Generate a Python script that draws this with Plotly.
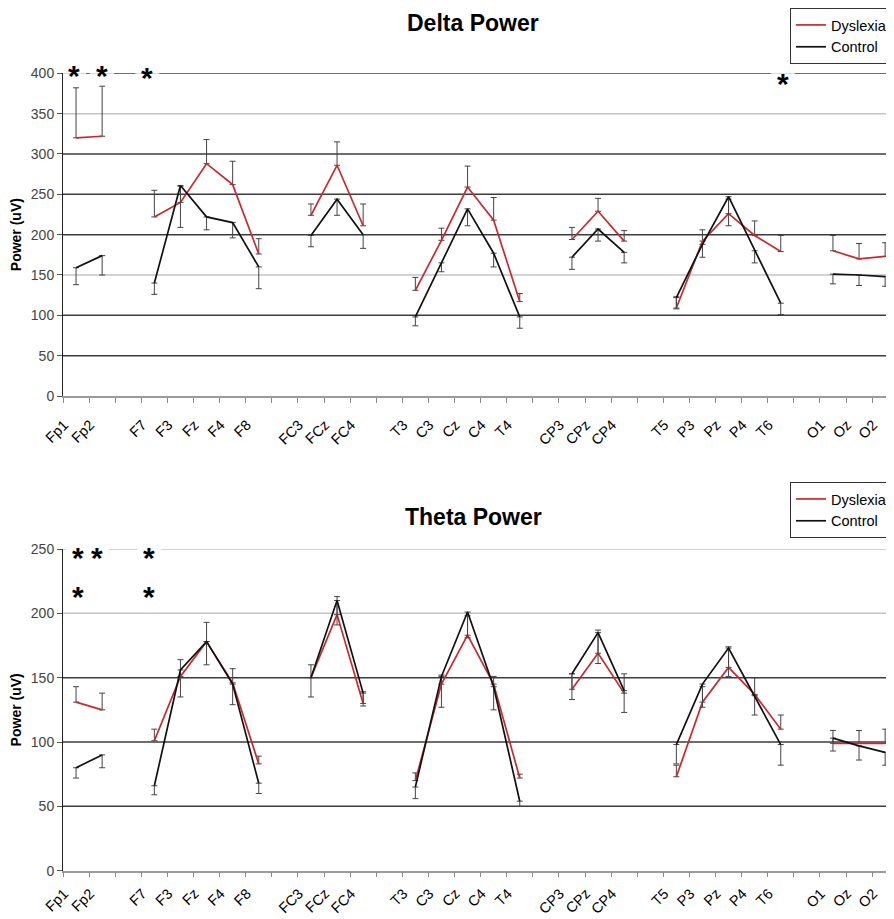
import plotly.graph_objects as go

# ---------------- data ----------------
# electrode categories (blank, distinct whitespace strings separate the electrode groups)
CATEGORIES = ["Fp1", "Fp2", " ",
              "F7", "F3", "Fz", "F4", "F8", "  ",
              "FC3", "FCz", "FC4", "   ",
              "T3", "C3", "Cz", "C4", "T4", "    ",
              "CP3", "CPz", "CP4", "     ",
              "T5", "P3", "Pz", "P4", "T6", "      ",
              "O1", "Oz", "O2"]

N = None
DELTA_DYSLEXIA = [320, 322, N, 222, 240, 288, 262, 176, N, 224, 286, 211, N,
                  131, 193, 259, 218, 117, N, 194, 229, 192, N,
                  109, 192, 226, 199, 179, N, 180, 170, 173]
DELTA_DYSLEXIA_ERR = [62, 62, N, 33, 20, 30, 29, 19, N, 14, 29, 27, N,
                      16, 15, 26, 28, 10, N, 15, 16, 13, N,
                      14, 14, 18, 18, 20, N, 19, 19, 17]
DELTA_CONTROL = [159, 174, N, 140, 261, 222, 215, 160, N, 199, 244, 200, N,
                 98, 165, 232, 177, 98, N, 172, 207, 178, N,
                 122, 188, 247, 180, 115, N, 151, 150, 148]
DELTA_CONTROL_ERR = [21, 24, N, 14, 52, 16, 19, 27, N, 14, 20, 17, N,
                     11, 11, 21, 17, 14, N, 15, 15, 13, N,
                     14, 16, 36, 15, 14, N, 12, 13, 12]

THETA_DYSLEXIA = [131, 125, N, 101, 151, 178, 146, 83, N, 150, 199, 130, N,
                  70, 145, 183, 145, 72, N, 141, 169, 138, N,
                  73, 131, 158, 137, 110, N, 99, 99, 99]
THETA_DYSLEXIA_ERR = [12, 13, N, 9, 13, 15, 11, 6, N, 10, 14, 9, N,
                      6, 7, 15, 6, 3, N, 12, 18, 15, N,
                      9, 12, 16, 13, 11, N, 10, 10, 11]
THETA_CONTROL = [80, 90, N, 66, 156, 178, 145, 68, N, 150, 210, 138, N,
                 65, 151, 201, 143, 54, N, 153, 185, 140, N,
                 98, 145, 173, 136, 98, N, 103, 97, 92]
THETA_CONTROL_ERR = [8, 10, N, 7, 21, 18, 16, 8, N, 15, 19, 10, N,
                     9, 24, 20, 18, 4, N, 20, 24, 17, N,
                     15, 18, 22, 15, 16, N, 10, 11, 10]

DELTA_TICKS = [0, 50, 100, 150, 200, 250, 300, 350, 400]
THETA_TICKS = [0, 50, 100, 150, 200, 250]

# significance markers: electrode -> number of stacked asterisks
DELTA_SIG = {"Fp1": 1, "Fp2": 1, "F7": 1, "T6": 1}
THETA_SIG = {"Fp1": 2, "Fp2": 1, "F7": 2}

# ---------------- styles ----------------
RED = "#C62A2F"
BLACK = "#111111"
ERR_COLOR = "#444444"
GRID_DARK = "#3c3c3c"
GRID_LIGHT = "#c4c4c4"
DELTA_GRID_STYLE = {50: GRID_DARK, 100: GRID_DARK, 150: GRID_LIGHT, 200: GRID_DARK,
                    250: GRID_DARK, 300: GRID_DARK, 350: GRID_LIGHT, 400: GRID_DARK}
THETA_GRID_STYLE = {50: GRID_DARK, 100: GRID_DARK, 150: GRID_DARK,
                    200: GRID_LIGHT, 250: GRID_LIGHT}
FONT = "Liberation Sans, Arial, sans-serif"
# star placement: (x shift px, px of the first asterisk's centre below the top gridline)
DELTA_STAR_POS = {"Fp1": (-2, -3), "Fp2": (0, -3), "F7": (-7, -1), "T6": (2, 5)}
THETA_STAR_POS = {"Fp1": (2, 3), "Fp2": (-5, 3), "F7": (-5, 3)}
STAR_SIZE = 30
STAR_INK_BELOW_TOP = 11.9   # asterisk ink centre below the top of its text box

# the page body adds an 8px margin, so the figure is drawn 8px smaller and
# all reference pixel positions are shifted by that margin
PAGE_W, PAGE_H = 894, 919
OFF = 8
W, H = PAGE_W - OFF, PAGE_H - OFF
PLOT_LEFT = 63
L = PLOT_LEFT - OFF
CAT_PX = 26.1
X_RANGE = [-0.5, -0.5 + (PAGE_W - PLOT_LEFT) / CAT_PX]


def paper_x(px):          # reference page px -> plot-area fraction
    return (px - PLOT_LEFT) / (W - L)


def paper_y(py):
    return 1 - (py - OFF) / H


fig = go.Figure()


def add_panel(dys, dys_err, con, con_err, xa, ya, legend):
    zeros = [0 if v is not None else None for v in dys]
    fig.add_trace(go.Scatter(
        x=CATEGORIES, y=dys, name="Dyslexia", mode="lines", connectgaps=False,
        line=dict(color=RED, width=1.7), xaxis=xa, yaxis=ya, legend=legend,
        error_y=dict(type="data", symmetric=False, array=dys_err, arrayminus=zeros,
                     color=ERR_COLOR, thickness=1, width=3),
        hoverinfo="x+y"))
    fig.add_trace(go.Scatter(
        x=CATEGORIES, y=con, name="Control", mode="lines", connectgaps=False,
        line=dict(color=BLACK, width=1.7), xaxis=xa, yaxis=ya, legend=legend,
        error_y=dict(type="data", symmetric=False, array=zeros, arrayminus=con_err,
                     color=ERR_COLOR, thickness=1, width=3),
        hoverinfo="x+y"))


add_panel(DELTA_DYSLEXIA, DELTA_DYSLEXIA_ERR, DELTA_CONTROL, DELTA_CONTROL_ERR, "x", "y", "legend")
add_panel(THETA_DYSLEXIA, THETA_DYSLEXIA_ERR, THETA_CONTROL, THETA_CONTROL_ERR, "x2", "y2", "legend2")

shapes = []
annotations = []


def grid_and_stars(ticks, grid_style, sig, pos, xref, yref, top):
    for v in ticks:
        if v in grid_style:
            shapes.append(dict(type="line", xref=xref + " domain", x0=0, x1=1,
                               yref=yref, y0=v, y1=v, layer="below",
                               line=dict(color=grid_style[v], width=1.5)))
    for cat, count in sig.items():
        dx, below = pos[cat]
        # white box hiding the top gridline behind the first asterisk
        shapes.append(dict(type="rect", xref=xref, yref=yref,
                           xsizemode="pixel", ysizemode="pixel",
                           xanchor=cat, yanchor=top,
                           x0=dx - 12, x1=dx + 12, y0=-below - 8, y1=-below + 8,
                           fillcolor="white", line=dict(width=0), layer="below"))
        annotations.append(dict(text="<br>".join(["<b>*</b>"] * count),
                                xref=xref, yref=yref, x=cat, y=top,
                                xshift=dx, yshift=STAR_INK_BELOW_TOP - below,
                                borderpad=0, showarrow=False,
                                xanchor="center", yanchor="top", align="center",
                                font=dict(family=FONT, size=STAR_SIZE, color="black")))


grid_and_stars(DELTA_TICKS, DELTA_GRID_STYLE, DELTA_SIG, DELTA_STAR_POS, "x", "y", DELTA_TICKS[-1])
grid_and_stars(THETA_TICKS, THETA_GRID_STYLE, THETA_SIG, THETA_STAR_POS, "x2", "y2", THETA_TICKS[-1])

annotations.append(dict(text="<b>Delta Power</b>", xref="paper", yref="paper",
                        x=paper_x(473), y=paper_y(23), showarrow=False,
                        xanchor="center", yanchor="middle",
                        font=dict(family=FONT, size=23, color="black")))
annotations.append(dict(text="<b>Theta Power</b>", xref="paper", yref="paper",
                        x=paper_x(473), y=paper_y(517), showarrow=False,
                        xanchor="center", yanchor="middle",
                        font=dict(family=FONT, size=23, color="black")))

xaxis_style = dict(
    type="category", categoryorder="array", categoryarray=CATEGORIES,
    range=X_RANGE, showgrid=False, zeroline=False,
    showline=True, linecolor="#9a9a9a", linewidth=1.5,
    ticks="outside", tickson="boundaries", ticklen=5, tickcolor="#8a8a8a", tickwidth=1,
    tickangle=-45, tickfont=dict(family=FONT, size=14.5, color="black"),
    ticklabelshift=-12,
    automargin=False, fixedrange=True)

yaxis_style = dict(
    showgrid=False, zeroline=False, showline=True, linecolor="#222222", linewidth=1,
    ticks="outside", ticklen=5, tickcolor="#555555",
    tickfont=dict(family=FONT, size=14, color="#444444"),
    title=dict(text="<b>Power (uV)</b>", font=dict(family=FONT, size=14, color="black"),
               standoff=13),
    automargin=False, fixedrange=True)

legend_style = dict(x=paper_x(893), xanchor="right", yanchor="top",
                    bgcolor="white", bordercolor="#333333", borderwidth=1,
                    font=dict(family=FONT, size=14.5, color="black"),
                    itemwidth=30, tracegroupgap=0)

fig.update_layout(
    width=W, height=H,
    margin=dict(l=L, r=0, t=0, b=0),
    paper_bgcolor="white", plot_bgcolor="white",
    font=dict(family=FONT, color="black"),
    xaxis=dict(domain=[0, 1], anchor="y", ticklabelstandoff=13, **xaxis_style),
    yaxis=dict(domain=[paper_y(396), paper_y(73.3)], range=[0, 400], anchor="x",
               tickvals=DELTA_TICKS, **yaxis_style),
    xaxis2=dict(domain=[0, 1], anchor="y2", ticklabelstandoff=7, **xaxis_style),
    yaxis2=dict(domain=[paper_y(870.7), paper_y(549)], range=[0, 250], anchor="x2",
                tickvals=THETA_TICKS, **yaxis_style),
    legend=dict(y=paper_y(8), **legend_style),
    legend2=dict(y=paper_y(482), **legend_style),
    shapes=shapes,
    annotations=annotations,
)

fig.write_html("out.html")
